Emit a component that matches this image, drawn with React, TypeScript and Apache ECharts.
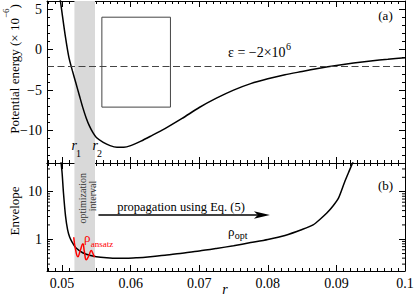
import React, { useEffect, useRef } from 'react';
import * as echarts from 'echarts';

const FONT = 'Liberation Serif, Times New Roman, serif';

// ---- axes ranges ----
const X_MIN = 0.0478;
const X_MAX = 0.1;
const Y1_MIN = -14;
const Y1_MAX = 6;
const Y2_MIN = 0.215;
const Y2_MAX = 40;

// ---- optimization interval ----
const R1 = 0.0518;
const R2 = 0.0548;
const EPS = -2;

// inset frame (r, V) corners
const INSET_R = [0.0558, 0.0658];
const INSET_V = [4.0, -7.1];

// propagation arrow (r, envelope)
const ARROW_R = [0.0553, 0.0803];
const ARROW_V = [3.23, 3.23];

// ---- top panel: potential energy (x 10^-6) ----
const rPot = [0.0495, 0.05, 0.0505, 0.051, 0.0515, 0.052, 0.0525, 0.053, 0.0535, 0.054, 0.0545, 0.055, 0.056, 0.057, 0.058, 0.059, 0.06, 0.0615, 0.063, 0.065, 0.0675, 0.07, 0.0725, 0.075, 0.0775, 0.08, 0.0825, 0.085, 0.0875, 0.09, 0.0925, 0.095, 0.0975, 0.1];
const vPot = [7.6, 4.5, 1.5, -1.0, -2.6, -4.1, -5.6, -7.1, -8.4, -9.45, -10.25, -10.85, -11.45, -11.85, -12.05, -12.05, -11.85, -11.3, -10.65, -9.75, -8.5, -7.15, -6.0, -5.0, -4.2, -3.6, -3.1, -2.7, -2.3, -1.95, -1.65, -1.4, -1.2, -1.0];

// ---- bottom panel: envelope rho_opt ----
const rEnv = [0.0498, 0.05, 0.0502, 0.0505, 0.0508, 0.0511, 0.0515, 0.052, 0.053, 0.054, 0.055, 0.0565, 0.058, 0.0595, 0.061, 0.0625, 0.065, 0.0675, 0.07, 0.0725, 0.075, 0.0775, 0.08, 0.0825, 0.085, 0.0866, 0.0877, 0.0886, 0.0895, 0.0903, 0.0912, 0.0919, 0.0925];
const vEnv = [48, 25, 9.5, 3.1, 1.6, 1.12, 0.85, 0.66, 0.52, 0.46, 0.43, 0.41, 0.4, 0.4, 0.41, 0.425, 0.46, 0.51, 0.565, 0.64, 0.73, 0.85, 0.99, 1.2, 1.6, 2.0, 2.7, 3.55, 5.0, 7.3, 16, 28, 45];

// ---- rho_ansatz ----
const rAns = [0.0517, 0.05195, 0.0523, 0.05265, 0.05302, 0.05325, 0.05353, 0.0539, 0.05425, 0.0545, 0.0547];
const vAns = [1.1, 0.62, 0.43, 0.58, 0.8, 0.55, 0.37, 0.45, 0.58, 0.5, 0.42];

// log-axis minor tick values
const logMinor = [0.3, 0.4, 0.5, 0.6, 0.7, 0.8, 0.9, 2, 3, 4, 5, 6, 7, 8, 9, 20, 30];

const lineStyleAxis = { color: '#000', width: 1 };

const axisCommon = {
  axisLine: { show: true, onZero: false, lineStyle: lineStyleAxis },
  axisTick: { show: true, inside: true, length: 6, lineStyle: lineStyleAxis },
  splitLine: { show: false },
};

const xLabelFmt = (v: number) => {
  const k = Math.round(v * 100);
  return Math.abs(v * 100 - k) < 1e-6 ? String(k / 100) : '';
};
const y1LabelFmt = (v: number) => {
  const k = Math.round(v / 5);
  if (Math.abs(v / 5 - k) > 1e-6) return '';
  const n = k * 5;
  return n < 0 ? '\u2212' + String(-n) : String(n);
};
const y2LabelFmt = (v: number) => {
  const l = Math.log10(v);
  return Math.abs(l - Math.round(l)) < 1e-6 ? String(Math.round(v)) : '';
};

const labelStyle = { fontSize: 14, color: '#000', fontFamily: FONT };

let measureCtx: CanvasRenderingContext2D | null = null;
function measure(text: string, size: number, italic = false) {
  if (!measureCtx) measureCtx = document.createElement('canvas').getContext('2d');
  if (!measureCtx) return text.length * size * 0.5;
  measureCtx.font = (italic ? 'italic ' : '') + size + 'px ' + FONT;
  return measureCtx.measureText(text).width;
}

function xAxisDef(gridIndex: number, position: string, showLabel: boolean) {
  return {
    type: 'value',
    gridIndex,
    position,
    min: X_MIN,
    max: X_MAX,
    splitNumber: 5,
    ...axisCommon,
    minorTick: { show: true, splitNumber: 10, length: 3, lineStyle: lineStyleAxis },
    axisLabel: showLabel ? { show: true, margin: 5, formatter: xLabelFmt, ...labelStyle } : { show: false },
  };
}

function y1AxisDef(position: string, showLabel: boolean) {
  return {
    type: 'value',
    gridIndex: 0,
    position,
    min: Y1_MIN,
    max: Y1_MAX,
    splitNumber: 4,
    ...axisCommon,
    minorTick: { show: true, splitNumber: 5, length: 3, lineStyle: lineStyleAxis },
    axisLabel: showLabel ? { show: true, margin: 5, formatter: y1LabelFmt, ...labelStyle } : { show: false },
  };
}

function y2AxisDef(position: string, showLabel: boolean) {
  return {
    type: 'log',
    logBase: 10,
    gridIndex: 1,
    position,
    min: Y2_MIN,
    max: Y2_MAX,
    ...axisCommon,
    axisLabel: showLabel ? { show: true, margin: 5, formatter: y2LabelFmt, ...labelStyle } : { show: false },
  };
}

function txt(x: number, y: number, text: string, size: number, opts: any = {}) {
  return {
    type: 'text',
    x,
    y,
    z: 100,
    silent: true,
    rotation: opts.rotation || 0,
    style: {
      text,
      fontSize: size,
      fontFamily: FONT,
      fontStyle: opts.italic ? 'italic' : 'normal',
      fill: opts.color || '#000',
      align: opts.align || 'left',
      verticalAlign: 'middle',
    },
  };
}

function buildGraphics() {
  const g: any[] = [];
  // Top y-axis title: "Potential energy (× 10^−6)" rotated
  const t1 = 'Potential energy (\u00d7 10';
  const t2 = '\u22126';
  const t3 = ')';
  const w1 = measure(t1, 13);
  const w2 = measure(t2, 9);
  const w3 = measure(t3, 13);
  const y0 = 69 + (w1 + w2 + w3) / 2;
  g.push(txt(14.5, y0, t1, 13, { rotation: Math.PI / 2 }));
  g.push(txt(6, y0 - w1, t2, 9, { rotation: Math.PI / 2 }));
  g.push(txt(14.5, y0 - w1 - w2, t3, 13, { rotation: Math.PI / 2 }));
  // Bottom y-axis title
  g.push(txt(14.5, 211, 'Envelope', 13, { rotation: Math.PI / 2, align: 'center' }));
  // x-axis title
  g.push(txt(225, 289, 'r', 14, { italic: true, align: 'center' }));
  // panel tags
  g.push(txt(385.5, 15, '(a)', 13, { align: 'center' }));
  g.push(txt(385.5, 185, '(b)', 13, { align: 'center' }));
  // epsilon label
  const e1 = '\u03b5 = \u22122\u00d710';
  const we = measure(e1, 14);
  g.push(txt(228, 52.5, e1, 14));
  g.push(txt(228 + we + 0.5, 46, '6', 10));
  // r1, r2
  const wr = measure('r', 14, true);
  g.push(txt(71.5, 145.1, 'r', 14, { italic: true }));
  g.push(txt(71.5 + wr - 1, 153, '1', 10));
  g.push(txt(92.5, 145.1, 'r', 14, { italic: true }));
  g.push(txt(92.5 + wr - 1, 153, '2', 10));
  // optimization interval
  g.push(txt(82.5, 198.3, 'optimization', 10, { rotation: Math.PI / 2, align: 'center', color: '#333' }));
  g.push(txt(92, 196, 'interval', 10, { rotation: Math.PI / 2, align: 'center', color: '#333' }));
  // propagation label
  g.push(txt(181, 206.7, 'propagation using Eq. (5)', 12.5, { align: 'center' }));
  // rho_ansatz
  const wp = measure('\u03c1', 13);
  g.push(txt(84, 237, '\u03c1', 13, { color: '#ff0000' }));
  g.push(txt(84 + wp + 0.3, 244, 'ansatz', 9, { color: '#ff0000' }));
  // rho_opt
  g.push(txt(228, 231, '\u03c1', 13));
  g.push(txt(228 + wp + 0.3, 235.5, 'opt', 10));
  return g;
}

function buildOption() {
  return {
    animation: false,
    backgroundColor: '#fff',
    textStyle: { fontFamily: FONT },
    grid: [
      { left: 47, top: 1, right: 10, bottom: 134, containLabel: false, outerBoundsMode: 'none' },
      { left: 47, top: 163, right: 10, bottom: 26, containLabel: false, outerBoundsMode: 'none' },
    ],
    xAxis: [
      xAxisDef(0, 'bottom', false),
      xAxisDef(0, 'top', false),
      xAxisDef(1, 'bottom', true),
      xAxisDef(1, 'top', false),
    ],
    yAxis: [
      y1AxisDef('left', true),
      y1AxisDef('right', false),
      y2AxisDef('left', true),
      y2AxisDef('right', false),
    ],
    series: [
      {
        type: 'line',
        xAxisIndex: 0,
        yAxisIndex: 0,
        data: rPot.map((r, i) => [r, vPot[i]]),
        showSymbol: false,
        smooth: 0.25,
        lineStyle: { color: '#000', width: 1.5 },
        z: 3,
        silent: true,
        markArea: {
          silent: true,
          data: [
            [{ xAxis: R1, itemStyle: { color: '#d9d9d9' } }, { xAxis: R2 }],
            [
              {
                coord: [INSET_R[0], INSET_V[0]],
                itemStyle: { color: 'rgba(0,0,0,0)', borderColor: '#444', borderWidth: 1 },
              },
              { coord: [INSET_R[1], INSET_V[1]] },
            ],
          ],
        },
        markLine: {
          silent: true,
          symbol: 'none',
          label: { show: false },
          lineStyle: { type: [7, 3.5], color: '#444', width: 1.2 },
          data: [{ yAxis: EPS }],
        },
      },
      {
        type: 'line',
        xAxisIndex: 2,
        yAxisIndex: 2,
        data: rEnv.map((r, i) => [r, vEnv[i]]),
        showSymbol: false,
        smooth: 0.25,
        lineStyle: { color: '#000', width: 1.5 },
        z: 3,
        silent: true,
        markArea: {
          silent: true,
          data: [[{ xAxis: R1, itemStyle: { color: '#d9d9d9' } }, { xAxis: R2 }]],
        },
      },
      {
        type: 'line',
        xAxisIndex: 2,
        yAxisIndex: 2,
        data: rAns.map((r, i) => [r, vAns[i]]),
        showSymbol: false,
        smooth: 0.5,
        lineStyle: { color: '#ff0000', width: 1.5 },
        z: 4,
        silent: true,
      },
      {
        type: 'custom',
        xAxisIndex: 2,
        yAxisIndex: 2,
        silent: true,
        clip: false,
        z: 5,
        data: [[ARROW_R[0], ARROW_V[0], ARROW_R[1], ARROW_V[1]]],
        renderItem: (params: any, api: any) => {
          const a = api.coord([api.value(0), api.value(1)]);
          const b = api.coord([api.value(2), api.value(3)]);
          const L = 16;
          const W = 3.8;
          return {
            type: 'group',
            children: [
              {
                type: 'line',
                shape: { x1: a[0], y1: a[1], x2: b[0] - L + 4, y2: b[1] },
                style: { stroke: '#000', lineWidth: 1.5 },
              },
              {
                type: 'polygon',
                shape: {
                  points: [
                    [b[0], b[1]],
                    [b[0] - L, b[1] - W],
                    [b[0] - L + 4, b[1]],
                    [b[0] - L, b[1] + W],
                  ],
                },
                style: { fill: '#000' },
              },
            ],
          };
        },
      },
      {
        type: 'custom',
        xAxisIndex: 2,
        yAxisIndex: 2,
        silent: true,
        clip: false,
        z: 6,
        data: logMinor.map((v) => [X_MIN, v]),
        renderItem: (params: any, api: any) => {
          const v = api.value(1);
          const pl = api.coord([X_MIN, v]);
          const pr = api.coord([X_MAX, v]);
          return {
            type: 'group',
            children: [
              { type: 'line', shape: { x1: pl[0], y1: pl[1], x2: pl[0] + 3, y2: pl[1] }, style: { stroke: '#000', lineWidth: 1 } },
              { type: 'line', shape: { x1: pr[0] - 3, y1: pr[1], x2: pr[0], y2: pr[1] }, style: { stroke: '#000', lineWidth: 1 } },
            ],
          };
        },
      },
    ],
    graphic: buildGraphics(),
  };
}

export default function App() {
  const ref = useRef<HTMLDivElement | null>(null);
  useEffect(() => {
    if (!ref.current) return;
    const chart = echarts.init(ref.current, null, { renderer: 'svg' });
    chart.setOption(buildOption() as any);
    return () => chart.dispose();
  }, []);
  return (
    <div
      ref={ref}
      style={{ position: 'fixed', left: 0, top: 0, width: 415, height: 297, background: '#fff' }}
    />
  );
}
